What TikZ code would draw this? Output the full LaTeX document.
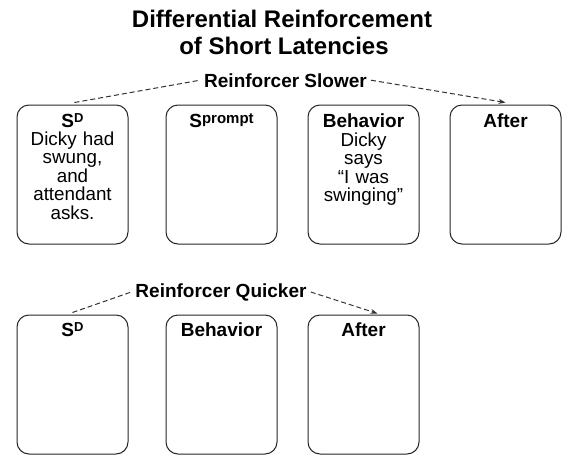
\documentclass[tikz,border=0pt]{standalone}
\usepackage{fontspec}
\setmainfont{Liberation Sans}
\usetikzlibrary{arrows.meta}
\newcommand\mysupD[1]{\raisebox{4.5pt}{\fontsize{13}{13}\selectfont #1}}
\newcommand\mysupP[1]{\raisebox{4pt}{\fontsize{15}{15}\selectfont #1}}
\begin{document}
\begin{tikzpicture}[x=1pt,y=-1pt,
  box/.style={draw=black!85, line width=1pt, rounded corners=12pt, minimum width=111pt, minimum height=139pt, inner sep=0pt},
  head/.style={anchor=base, font=\fontsize{19}{19}\selectfont\bfseries, inner sep=0pt},
  body/.style={anchor=base, text width=108pt, align=center, font=\fontsize{18.8}{18.5}\selectfont, inner sep=0pt},
  ttl/.style={anchor=base, font=\fontsize{24}{24}\selectfont\bfseries, inner sep=0pt},
  lab/.style={anchor=base, font=\fontsize{19}{19}\selectfont\bfseries, inner sep=4pt},
  link/.style={draw=black!80, line width=1pt, dash pattern=on 5pt off 3pt},
  tip/.style={-{Stealth[length=7pt,width=5pt]}}
  ]
\useasboundingbox (0,0) rectangle (571,464);
\fill[white] (0,0) rectangle (571,464);
% title
\node[ttl] (title1) at (282,27) {Differential Reinforcement};
\node[ttl] (title2) at (284,54) {of Short Latencies};
% top row
\node[box] (b1) at (72.5,174.5) {};
\node[box] (b2) at (221.5,174.5) {};
\node[box] (b3) at (363.5,174.5) {};
\node[box] (b4) at (505.5,174.5) {};
\node[head] (h1) at (72.5,127) {S\mysupD{D}};
\node[head] (h2) at (221.5,127) {S\mysupP{prompt}};
\node[head] (h3) at (363.5,127) {Behavior};
\node[head] (h4) at (505.5,127) {After};
\node[body] (t1) at (72.5,145) {Dicky had\\swung,\\and\\attendant\\asks.};
\node[body] (t3) at (363.5,146) {Dicky\\says\\“I was\\swinging”};
\node[lab] (slow) at (285.5,87) {Reinforcer Slower};
\draw[link] ([xshift=2pt,yshift=2pt]b1.north) -- (slow.west);
\draw[link,tip] (slow.east) -- ([yshift=2pt]b4.north);
% bottom row
\node[box] (c1) at (72.5,384.5) {};
\node[box] (c2) at (221.5,384.5) {};
\node[box] (c3) at (363.5,384.5) {};
\node[head] (k1) at (72.5,336) {S\mysupD{D}};
\node[head] (k2) at (221.5,336) {Behavior};
\node[head] (k3) at (363.5,336) {After};
\node[lab] (quick) at (221,297) {Reinforcer Quicker};
\draw[link] ([yshift=2pt]c1.north) -- (quick.west);
\draw[link,tip] (quick.east) -- ([xshift=14pt,yshift=1pt]c3.north);
\end{tikzpicture}
\end{document}
